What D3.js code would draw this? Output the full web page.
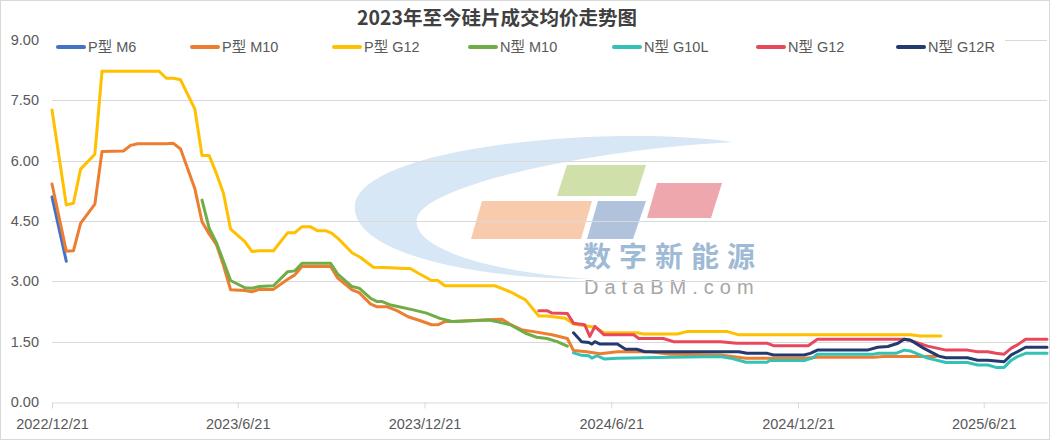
<!DOCTYPE html>
<html>
<head>
<meta charset="utf-8">
<script src="https://cdn.jsdelivr.net/npm/d3@7"></script>
<style>
  html, body { margin: 0; padding: 0; background: #fff; }
  svg { display: block; }
</style>
</head>
<body>
<svg id="chart" width="1050" height="440"></svg>
<script>
// ---------------- data ----------------
const seriesNames = ["P型 M6", "P型 M10", "P型 G12", "N型 M10", "N型 G10L", "N型 G12", "N型 G12R"];
const seriesColors = ["#4472C4", "#ED7D31", "#FFC000", "#70AD47", "#33C2B3", "#E8485E", "#223A70"];
const yTickValues = [0, 1.5, 3, 4.5, 6, 7.5, 9];
const xTickLabels = ["2022/12/21", "2023/6/21", "2023/12/21", "2024/6/21", "2024/12/21", "2025/6/21"];

const pM6Dates = ["2022-12-21", "2023-01-04"];
const pM6Values = [5.10, 3.50];

const pM10Dates = ["2022-12-21","2023-01-04","2023-01-11","2023-01-18","2023-02-01","2023-02-08","2023-03-01","2023-03-08","2023-03-15","2023-04-12","2023-04-19","2023-04-26","2023-05-10","2023-05-17","2023-05-24","2023-05-31","2023-06-07","2023-06-14","2023-06-28","2023-07-05","2023-07-12","2023-07-26","2023-08-09","2023-08-16","2023-08-23","2023-09-20","2023-09-27","2023-10-11","2023-10-18","2023-10-29","2023-11-04","2023-11-14","2023-11-24","2023-12-05","2023-12-17","2023-12-28","2024-01-03","2024-01-10","2024-01-18","2024-02-17","2024-03-06","2024-03-14","2024-03-26","2024-04-06","2024-04-24","2024-05-09","2024-05-15","2024-05-28","2024-06-10","2024-06-27","2024-07-29","2024-08-18","2024-10-06","2024-10-31","2024-12-27","2025-01-09","2025-03-05","2025-03-15","2025-05-05"];
const pM10Values = [5.42,3.75,3.76,4.44,4.92,6.23,6.24,6.38,6.42,6.42,6.43,6.29,5.30,4.48,4.18,3.92,3.40,2.79,2.77,2.74,2.80,2.80,3.05,3.16,3.37,3.37,3.08,2.79,2.72,2.44,2.37,2.37,2.27,2.12,2.02,1.92,1.92,2.00,2.00,2.04,2.06,1.93,1.79,1.75,1.67,1.58,1.28,1.25,1.20,1.25,1.25,1.19,1.17,1.09,1.09,1.11,1.11,1.13,1.13];

const pG12Dates = ["2022-12-21","2023-01-04","2023-01-11","2023-01-18","2023-02-01","2023-02-08","2023-04-05","2023-04-12","2023-04-19","2023-04-26","2023-05-10","2023-05-17","2023-05-24","2023-05-31","2023-06-07","2023-06-14","2023-06-28","2023-07-05","2023-07-12","2023-07-26","2023-08-09","2023-08-16","2023-08-23","2023-08-31","2023-09-07","2023-09-15","2023-09-21","2023-09-28","2023-10-11","2023-10-19","2023-11-01","2023-11-18","2023-11-30","2023-12-07","2023-12-15","2023-12-28","2024-01-03","2024-01-10","2024-02-28","2024-03-08","2024-03-14","2024-03-29","2024-04-11","2024-04-19","2024-05-07","2024-05-15","2024-05-28","2024-06-05","2024-06-14","2024-07-16","2024-07-23","2024-08-25","2024-09-03","2024-10-13","2024-10-24","2025-04-10","2025-04-20","2025-05-10"];
const pG12Values = [7.26,4.90,4.94,5.79,6.16,8.22,8.22,8.05,8.05,8.01,7.28,6.13,6.13,5.69,5.19,4.30,3.99,3.74,3.76,3.76,4.21,4.21,4.36,4.36,4.26,4.26,4.20,4.05,3.71,3.60,3.35,3.34,3.32,3.32,3.20,3.02,3.02,2.89,2.89,2.80,2.74,2.54,2.14,2.14,2.08,1.94,1.89,1.86,1.72,1.72,1.69,1.69,1.75,1.75,1.67,1.67,1.64,1.64];

const nM10Dates = ["2023-05-17","2023-05-24","2023-05-31","2023-06-07","2023-06-14","2023-06-28","2023-07-05","2023-07-12","2023-07-26","2023-08-09","2023-08-16","2023-08-23","2023-09-20","2023-09-27","2023-10-11","2023-10-18","2023-10-29","2023-11-04","2023-11-09","2023-11-18","2023-11-27","2023-12-10","2023-12-23","2024-01-05","2024-01-17","2024-01-25","2024-02-22","2024-03-04","2024-03-14","2024-03-29","2024-04-09","2024-04-19","2024-04-29","2024-05-09"];
const nM10Values = [5.02,4.32,3.97,3.50,3.02,2.84,2.83,2.87,2.89,3.24,3.26,3.45,3.45,3.18,2.87,2.83,2.58,2.50,2.50,2.41,2.36,2.29,2.21,2.08,2.00,2.01,2.04,1.98,1.92,1.71,1.61,1.58,1.50,1.39];

const nG10LDates = ["2024-05-15","2024-05-23","2024-05-30","2024-06-02","2024-06-07","2024-06-14","2024-06-27","2024-08-18","2024-10-06","2024-10-16","2024-10-31","2024-11-21","2024-11-23","2024-12-27","2025-01-04","2025-01-09","2025-03-05","2025-03-10","2025-03-27","2025-04-04","2025-04-10","2025-04-27","2025-05-15","2025-06-05","2025-06-15","2025-06-25","2025-07-03","2025-07-11","2025-07-18","2025-07-24","2025-08-01","2025-08-22"];
const nG10LValues = [1.22,1.16,1.15,1.09,1.15,1.07,1.09,1.11,1.13,1.09,0.99,0.99,1.03,1.03,1.09,1.19,1.19,1.21,1.21,1.29,1.27,1.09,0.98,0.98,0.92,0.92,0.86,0.86,1.04,1.13,1.21,1.21];

const nG12Dates = ["2024-04-11","2024-04-19","2024-04-24","2024-05-09","2024-05-15","2024-05-26","2024-05-31","2024-06-05","2024-06-14","2024-07-13","2024-07-18","2024-08-11","2024-08-21","2024-10-06","2024-10-22","2024-11-21","2024-11-27","2024-12-31","2025-01-09","2025-04-04","2025-04-10","2025-04-27","2025-05-15","2025-06-05","2025-06-15","2025-06-25","2025-07-03","2025-07-11","2025-07-18","2025-07-24","2025-08-01","2025-08-22"];
const nG12Values = [2.27,2.27,2.21,2.20,1.96,1.92,1.63,1.88,1.67,1.67,1.58,1.58,1.50,1.50,1.46,1.46,1.40,1.40,1.56,1.56,1.53,1.39,1.29,1.29,1.25,1.25,1.21,1.19,1.34,1.42,1.56,1.56];

const nG12RDates = ["2024-05-15","2024-05-23","2024-05-30","2024-06-02","2024-06-05","2024-06-10","2024-06-27","2024-07-05","2024-07-16","2024-07-24","2024-10-24","2024-11-01","2024-11-21","2024-11-27","2024-12-27","2025-01-02","2025-01-09","2025-02-27","2025-03-09","2025-03-19","2025-03-29","2025-04-04","2025-04-10","2025-04-23","2025-05-08","2025-05-15","2025-06-05","2025-06-15","2025-06-25","2025-07-03","2025-07-11","2025-07-18","2025-07-24","2025-08-01","2025-08-22"];
const nG12RValues = [1.72,1.50,1.48,1.44,1.50,1.44,1.44,1.31,1.31,1.25,1.25,1.21,1.21,1.17,1.17,1.21,1.29,1.29,1.36,1.38,1.46,1.56,1.54,1.34,1.14,1.10,1.10,1.04,1.04,1.02,1.00,1.17,1.25,1.36,1.36];

// ---------------- build ----------------
const parse = d3.timeParse("%Y-%m-%d");
const tickParse = d3.timeParse("%Y/%m/%d");
const seriesDates = [pM6Dates, pM10Dates, pG12Dates, nM10Dates, nG10LDates, nG12Dates, nG12RDates];
const seriesValues = [pM6Values, pM10Values, pG12Values, nM10Values, nG10LValues, nG12Values, nG12RValues];
const series = seriesNames.map((name, i) => ({
  name, color: seriesColors[i],
  points: seriesDates[i].map((d, j) => ({ date: parse(d), value: seriesValues[i][j] }))
}));

const W = 1050, H = 440;
const plot = { left: 52, right: 1047, top: 40, bottom: 402 };
const svg = d3.select("#chart");

svg.append("rect").attr("x", 0.5).attr("y", 0.5).attr("width", W - 1).attr("height", H - 1)
  .attr("fill", "#fff").attr("stroke", "#d9d9d9");

const x = d3.scaleTime()
  .domain([parse("2022-12-21"), parse("2025-08-22")])
  .range([plot.left, plot.right]);
const y = d3.scaleLinear().domain([0, 9]).range([plot.bottom, plot.top]);

// watermark (decorative)
const wm = svg.append("g").attr("class", "watermark");
wm.append("path")
  .attr("d", "M733,142 C600,124 362,148 355,205 C350,252 470,279 592,279 C485,272 410,247 417,218 C425,186 585,150 733,142 Z")
  .attr("fill", "#d7e7f6");
const paras = [
  { pts: [[567,165],[646,165],[636,196],[557,196]], c: "#cfe0aa" },
  { pts: [[482,201],[592,201],[581,239],[471,239]], c: "#f8cbad" },
  { pts: [[598,201],[646,201],[633,239],[587,239]], c: "#b1c2dd" },
  { pts: [[657,183],[722,183],[711,218],[647,218]], c: "#eda7ad" }
];
paras.forEach(p => wm.append("polygon").attr("points", p.pts.map(q => q.join(",")).join(" ")).attr("fill", p.c));
wm.append("text").attr("x", 583).attr("y", 267)
  .attr("font-family", "'Noto Sans CJK SC', sans-serif").attr("font-weight", "bold")
  .attr("font-size", 28).attr("letter-spacing", 8).attr("fill", "#9fbad4").text("数字新能源");
wm.append("text").attr("x", 584).attr("y", 294)
  .attr("font-family", "'Liberation Sans', Arial, sans-serif")
  .attr("font-size", 20).attr("letter-spacing", 6).attr("fill", "#a6a6a6").text("DataBM.com");

// gridlines
svg.append("g").selectAll("line").data(yTickValues.filter(v => v > 0)).join("line")
  .attr("x1", plot.left).attr("x2", plot.right)
  .attr("y1", d => Math.round(y(d)) + 0.5).attr("y2", d => Math.round(y(d)) + 0.5)
  .attr("stroke", "#d9d9d9").attr("stroke-width", 1);

// y labels
const labelFont = "'Liberation Sans', Arial, sans-serif";
svg.append("g").selectAll("text").data(yTickValues).join("text")
  .attr("x", 39).attr("y", d => y(d)).attr("dy", "0.35em")
  .attr("text-anchor", "end").attr("font-family", labelFont).attr("font-size", 14.5)
  .attr("fill", "#595959").text(d => d3.format(".2f")(d));

// x axis
const xAxis = d3.axisBottom(x)
  .tickValues(xTickLabels.map(t => tickParse(t)))
  .tickFormat(d3.timeFormat("%Y/%-m/%-d"))
  .tickSize(6).tickSizeOuter(0);
const gx = svg.append("g").attr("transform", `translate(0,${Math.round(y(0)) + 0.5})`).call(xAxis);
gx.select(".domain").attr("stroke", "#d9d9d9");
gx.selectAll(".tick line").attr("stroke", "#d9d9d9");
gx.selectAll(".tick text").attr("font-family", labelFont).attr("font-size", 14.5)
  .attr("fill", "#595959").attr("dy", "1.2em");

// lines
const line = d3.line().x(d => x(d.date)).y(d => y(d.value));
svg.append("g").selectAll("path").data(series).join("path")
  .attr("d", d => line(d.points))
  .attr("fill", "none").attr("stroke", d => d.color).attr("stroke-width", 3)
  .attr("stroke-linejoin", "round").attr("stroke-linecap", "round");

// legend
const legendX = [57, 191, 333, 469, 613, 757, 897];
const lg = svg.append("g");
lg.append("rect").attr("x", 50).attr("y", 37).attr("width", 955).attr("height", 20).attr("fill", "#fff");
const items = lg.selectAll("g").data(series).join("g")
  .attr("transform", (d, i) => `translate(${legendX[i]},47)`);
items.append("line").attr("x1", 1).attr("x2", 27).attr("y1", 0).attr("y2", 0)
  .attr("stroke", d => d.color).attr("stroke-width", 4).attr("stroke-linecap", "round");
items.append("text").attr("x", 31).attr("y", 0).attr("dy", "0.36em")
  .attr("font-family", "'Liberation Sans', 'Noto Sans CJK SC', sans-serif").attr("font-size", 14.5)
  .attr("fill", "#595959").text(d => d.name);

// title
svg.append("text").attr("x", 497).attr("y", 18).attr("dy", "0.35em")
  .attr("text-anchor", "middle")
  .attr("font-family", "'Noto Sans CJK SC', 'Liberation Sans', sans-serif")
  .attr("font-weight", "bold").attr("font-size", 19.5).attr("fill", "#404040")
  .text("2023年至今硅片成交均价走势图");
</script>
</body>
</html>
